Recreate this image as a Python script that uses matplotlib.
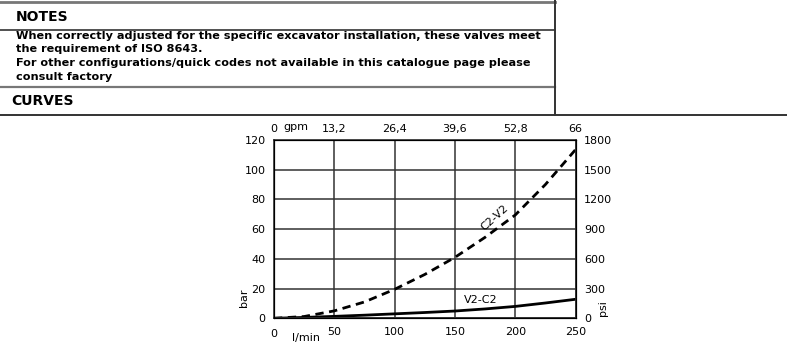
import numpy as np
import matplotlib
matplotlib.use("Agg")
import matplotlib.pyplot as plt

# flow (l/min) vs pressure drop (bar)
flow = [0, 25, 50, 75, 100, 125, 150, 175, 200, 225, 250]
c2_v2 = [0, 1.2, 5, 11, 19.5, 29.5, 41, 54.5, 69.5, 90, 113.5]
v2_c2 = [0, 0.6, 1.3, 2.1, 3, 3.9, 4.9, 6.3, 8, 10.3, 12.8]

x_ticks = [0, 50, 100, 150, 200, 250]
bar_ticks = [0, 20, 40, 60, 80, 100, 120]
gpm_labels = ["0", "13,2", "26,4", "39,6", "52,8", "66"]
psi_labels = ["0", "300", "600", "900", "1200", "1500", "1800"]

W, H = 787, 347
fig = plt.figure(figsize=(W / 100, H / 100), dpi=100)
plt.rcParams['font.family'] = 'DejaVu Sans'
fs = 8

# header table lines (figure pixel coords)
def hline(y, x0, x1, lw=1.2, color="#333333"):
    fig.add_artist(plt.Line2D([x0 / W, x1 / W], [1 - y / H, 1 - y / H], color=color, lw=lw))

hline(1.5, 0, 555, lw=2.0, color="#777777")
hline(30, 0, 555)
hline(87, 0, 555, color="#777777", lw=1.6)
hline(115, 0, W, lw=1.4)
fig.add_artist(plt.Line2D([555 / W, 555 / W], [1 - 0 / H, 1 - 115 / H], color="#333333", lw=1.4))

fig.text(16 / W, 1 - 17 / H, "NOTES", fontsize=10, fontweight="bold", va="center")
notes = ["When correctly adjusted for the specific excavator installation, these valves meet",
         "the requirement of ISO 8643.",
         "For other configurations/quick codes not available in this catalogue page please",
         "consult factory"]
note_y = [36, 49, 63, 77]
for y, line in zip(note_y, notes):
    fig.text(16 / W, 1 - y / H, line, fontsize=8.1, fontweight="bold", va="center")
fig.text(11 / W, 1 - 101 / H, "CURVES", fontsize=10, fontweight="bold", va="center")

# chart
x0, x1, y_top, y_bot = 274, 575.5, 140, 318.3
ax = fig.add_axes([x0 / W, 1 - y_bot / H, (x1 - x0) / W, (y_bot - y_top) / H])
ax.plot(flow, c2_v2, color="black", lw=2.0, ls=(0, (3, 2)))
ax.plot(flow, v2_c2, color="black", lw=2.0)
ax.set_xlim(0, 250)
ax.set_ylim(0, 120)
ax.set_xticks(x_ticks)
ax.set_yticks(bar_ticks)
ax.grid(True, color="#333333", lw=1.1)
ax.tick_params(length=0, labelsize=fs, pad=6)
for s in ax.spines.values():
    s.set_color("#333333")
    s.set_linewidth(1.2)

ax.set_xticklabels(["", "50", "100", "150", "200", "250"])
fig.text(274 / W, 1 - 334 / H, "0", fontsize=fs, ha="center", va="center")
fig.text(306 / W, 1 - 338 / H, "l/min", fontsize=fs, ha="center", va="center")

top = ax.twiny()
top.set_xlim(ax.get_xlim())
top.set_xticks(x_ticks)
top.set_xticklabels(gpm_labels)
top.tick_params(length=0, labelsize=fs, pad=4)
fig.text(283 / W, 1 - 127 / H, "gpm", fontsize=fs, ha="left", va="center")

right = ax.twinx()
right.set_ylim(ax.get_ylim())
right.set_yticks(bar_ticks)
right.set_yticklabels(psi_labels)
right.tick_params(length=0, labelsize=fs, pad=6)

fig.text(244 / W, 1 - 298 / H, "bar", fontsize=fs, rotation=90, ha="center", va="center")
fig.text(603 / W, 1 - 308 / H, "psi", fontsize=fs, rotation=90, ha="center", va="center")

ax.text(183, 67.5, "C2-V2", fontsize=fs, rotation=42, ha="center", va="center")
ax.text(171, 12.3, "V2-C2", fontsize=fs, ha="center", va="center")

fig.savefig("out.png", dpi=100)
